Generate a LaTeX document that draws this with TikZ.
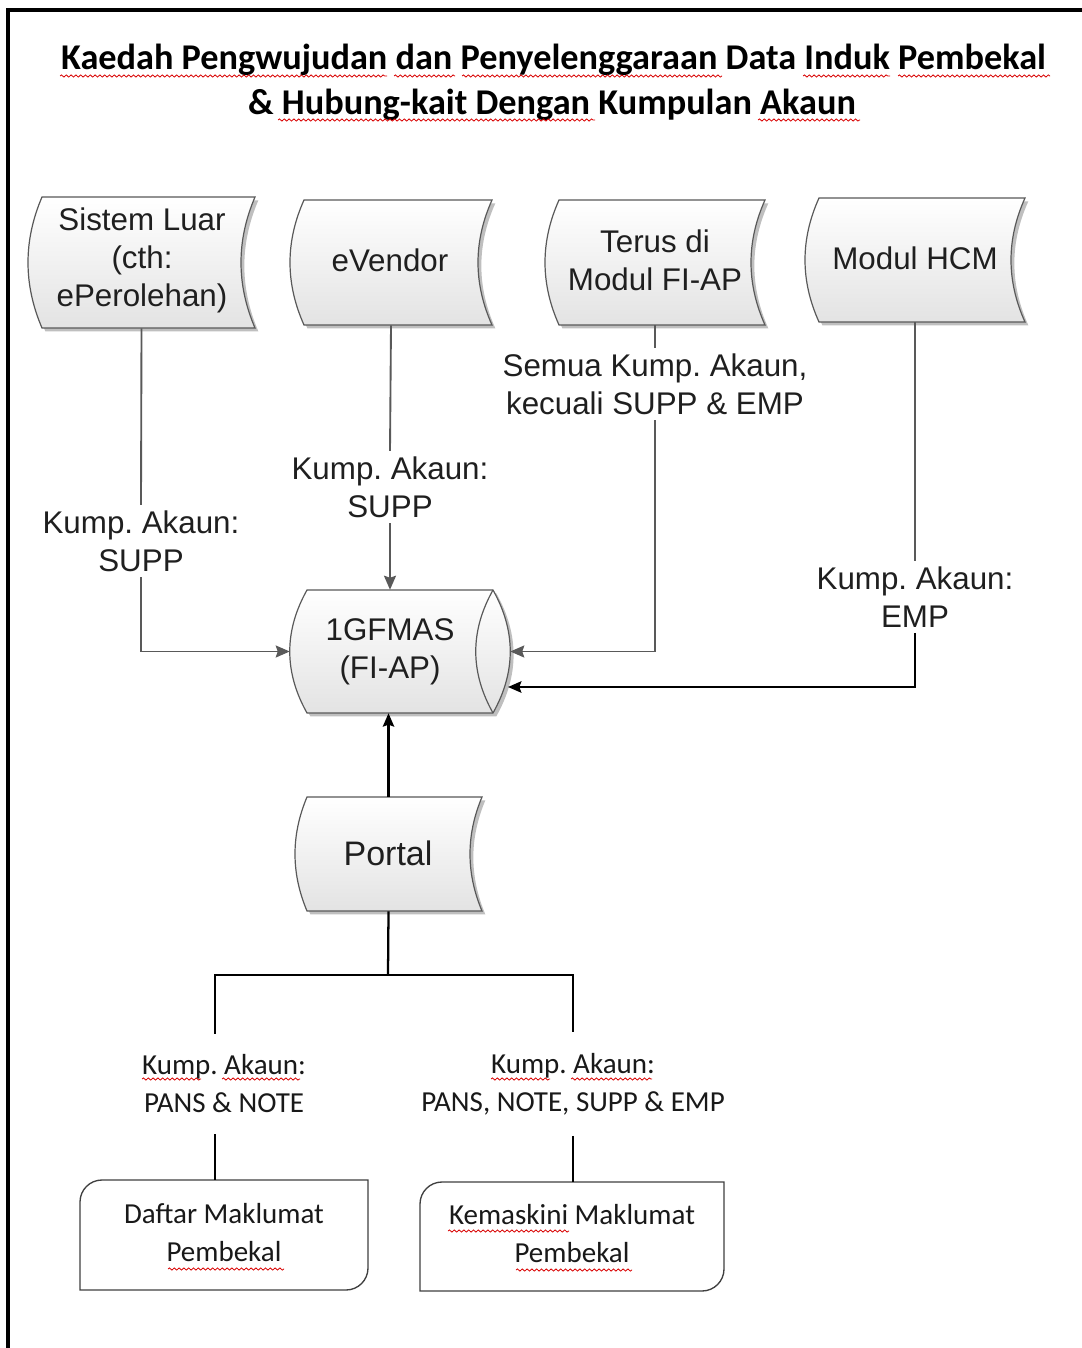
\documentclass[tikz,border=0pt]{standalone}
\usepackage{fontspec}
\setmainfont{Liberation Sans}
\newfontfamily\calibrifont{Carlito}
\usetikzlibrary{arrows.meta,shadows,calc,fit,decorations.pathmorphing}
\frenchspacing

\newcommand\sdpath[5]{% L T R B b : stored-data shape
  \path[sd] (#1+#5,#2) -- (#3,#2)
    .. controls (#3-4*#5/3,{#2+(#4-#2)/3}) and (#3-4*#5/3,{#4-(#4-#2)/3}) .. (#3,#4)
    -- (#1+#5,#4)
    .. controls (#1-#5/3,{#4-(#4-#2)/3}) and (#1-#5/3,{#2+(#4-#2)/3}) .. cycle;}
\newcommand\rboxpath[5]{% L T R B r : diagonal rounded box
  \draw[rb] (#1,#4) -- (#1,#2+#5)
    .. controls (#1,#2+0.448*#5) and (#1+0.448*#5,#2) .. (#1+#5,#2)
    -- (#3,#2) -- (#3,#4-#5)
    .. controls (#3,#4-0.448*#5) and (#3-0.448*#5,#4) .. (#3-#5,#4) -- cycle;}
\newcommand\wavy[3]{\draw[wv] (#1,#3) -- (#2,#3);}

\begin{document}
\begin{tikzpicture}[x=0.75pt,y=-0.75pt,
  sd/.style={draw=gray!70!black, line width=0.9pt, top color=white, bottom color=gray!22,
    drop shadow={shadow xshift=2.5pt, shadow yshift=-2.5pt, opacity=0.25, fill=black}},
  rb/.style={draw=black!75, line width=1pt, fill=white},
  box/.style={inner sep=0},
  txt/.style={font=\fontsize{23.5}{28.5}\selectfont, text=black!88, align=center},
  lab/.style={txt, inner sep=4pt},
  ctxt/.style={font=\calibrifont\fontsize{21.75}{28.5}\selectfont, text=black!90, align=center},
  clab/.style={ctxt, inner xsep=3pt, inner ysep=15.5pt},
  ttl/.style={font=\calibrifont\bfseries\fontsize{27.2}{33}\selectfont, anchor=base},
  gconn/.style={draw=black!65, line width=1.4pt},
  garrow/.style={gconn, -{Stealth[length=10.5pt,width=9pt,inset=1.5pt]}},
  bconn/.style={draw=black, line width=1.7pt},
  barrow/.style={bconn, -{Stealth[length=10pt,width=8.5pt,inset=1.5pt]}},
  wv/.style={draw=red!85!black, line width=0.6pt, decorate,
    decoration={snake, amplitude=0.8pt, segment length=3.6pt}}]

\useasboundingbox (0,0) rectangle (1081,1348);
\fill[white] (0,0) rectangle (1081,1348);
% frame
\draw[line width=3pt] (8,1350) -- (8,10) -- (1085,10);

% title
\node[ttl] (t1) at (553.5,70) {Kaedah Pengwujudan dan Penyelenggaraan Data Induk Pembekal};
\node[ttl] (t2) at (552,115) {\& Hubung-kait Dengan Kumpulan Akaun};
\wavy{60}{387}{76}
\wavy{394}{455}{76}
\wavy{462}{722}{76}
\wavy{803}{890}{76}
\wavy{898}{1050}{76}
\wavy{278}{595}{120}
\wavy{758}{860}{120}

% stored data shapes (sources)
\sdpath{28}{197}{255}{328}{14}
\node[fit={(28,197) (255,328)}, box] (sl) {};
\node[txt] (slt) at (142,260) {Sistem Luar\\(cth:\\ePerolehan)};
\sdpath{290}{200}{492}{325}{14}
\node[fit={(290,200) (492,325)}, box] (ev) {};
\node[txt] (evt) at (390,260) {eVendor};
\sdpath{545}{200}{765}{325}{14}
\node[fit={(545,200) (765,325)}, box] (tr) {};
\node[txt] (trt) at (655,260) {Terus di\\Modul FI-AP};
\sdpath{805}{198}{1025}{322}{14}
\node[fit={(805,198) (1025,322)}, box] (hc) {};
\node[txt] (hct) at (915,258) {Modul HCM};

% 1GFMAS cylinder
\path[sd] (307,590) -- (493,590)
  .. controls (516,631) and (516,672) .. (493,713)
  -- (307,713)
  .. controls (284,672) and (284,631) .. cycle;
\draw[draw=gray!70!black, line width=0.9pt] (493,590)
  .. controls (470,631) and (470,672) .. (493,713);
\node[fit={(290,590) (510,713)}, box] (gf) {};
\node[txt] (gft) at (390,652) {1GFMAS\\(FI-AP)};

% Portal
\sdpath{295}{797}{482}{911}{12}
\node[fit={(295,797) (482,911)}, box] (pt) {};
\node[font=\fontsize{25.5}{30}\selectfont, text=black!88] (ptt) at (388,853) {Portal};

% labels
\node[lab] (l1) at (141,541) {Kump. Akaun:\\SUPP};
\node[lab] (l2) at (390,487) {Kump. Akaun:\\SUPP};
\node[lab] (l3) at (655,384) {Semua Kump. Akaun,\\kecuali SUPP \& EMP};
\node[lab] (l4) at (915,597) {Kump. Akaun:\\EMP};
\node[clab] (l5) at (224,1084) {Kump. Akaun:\\PANS \& NOTE};
\node[clab] (l6) at (573,1084) {Kump. Akaun:\\PANS, NOTE, SUPP \& EMP};
\wavy{142}{201}{1079}
\wavy{222}{300}{1079}
\wavy{491}{550}{1079}
\wavy{571}{652}{1079}

% bottom boxes
\rboxpath{80}{1180}{368}{1290}{22}
\node[fit={(80,1180) (368,1290)}, box] (df) {};
\node[ctxt] (dft) at (224,1233) {Daftar Maklumat\\Pembekal};
\rboxpath{420}{1182}{724}{1291}{22}
\node[fit={(420,1182) (724,1291)}, box] (kb) {};
\node[ctxt] (kbt) at (572,1234) {Kemaskini Maklumat\\Pembekal};
\wavy{168}{284}{1269}
\wavy{448}{569}{1231}
\wavy{516}{632}{1270}

% connectors
\coordinate (gfe2) at (508,687);
\coordinate (split) at (388,975);
\draw[gconn] (sl.south) -- (l1.north);
\draw[garrow] (l1.south) |- (gf.west);
\draw[gconn] (ev.south) -- (l2.north);
\draw[garrow] (l2.south) -- (l2.south |- gf.north);
\draw[gconn] (tr.south) -- (l3.north);
\draw[garrow] (l3.south) |- (gf.east);
\draw[gconn] (hc.south) -- (l4.north);
\draw[barrow] (l4.south) |- (gfe2);
\draw[barrow] (pt.north) -- (pt.north |- gf.south);
\draw[bconn] (pt.south) -- (split);
\draw[bconn] ($(l5.north)+(-9,0)$) |- (split) -| (l6.north);
\draw[bconn] ($(l5.south)+(-9,0)$) -- ($(df.north)+(-9,0)$);
\draw[bconn] (l6.south) -- (l6.south |- kb.north);
\end{tikzpicture}
\end{document}
